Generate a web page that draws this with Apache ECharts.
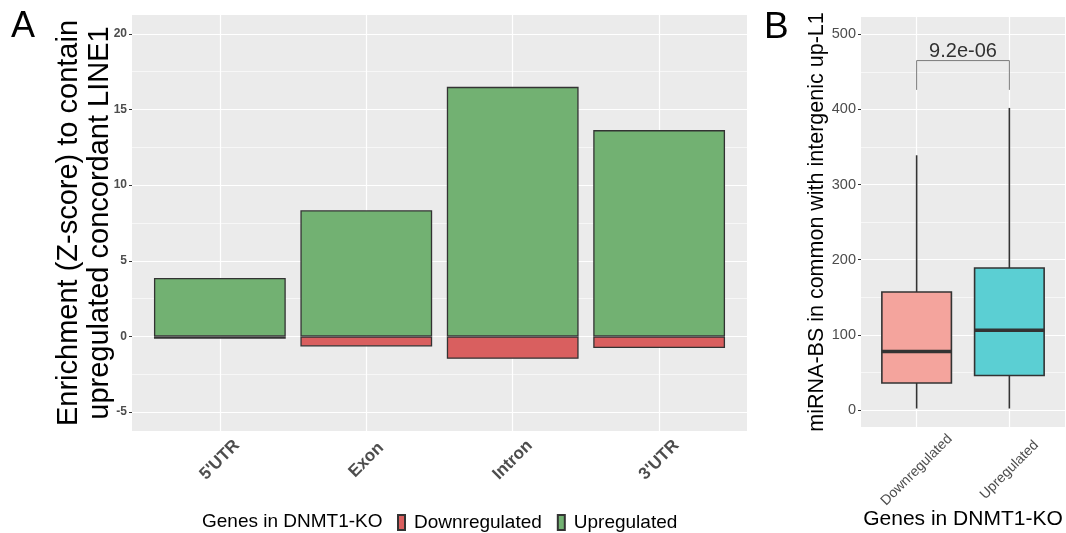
<!DOCTYPE html>
<html>
<head>
<meta charset="utf-8">
<script src="https://cdn.jsdelivr.net/npm/echarts@6/dist/echarts.min.js"></script>
<style>
  html, body { margin: 0; padding: 0; background: #fff; }
  #chart { width: 1066px; height: 533px; }
</style>
</head>
<body>
<div id="chart"></div>
<script>
// panel A: enrichment per gene region
const regions = ["5'UTR", 'Exon', 'Intron', "3'UTR"];
const upValues = [3.86, 8.34, 16.5, 13.64];
const downValues = [-0.15, -0.66, -1.48, -0.77];
const yMajorA = [-5, 0, 5, 10, 15, 20];
const yMinorA = [-2.5, 2.5, 7.5, 12.5, 17.5];

// panel B: miRNA-BS boxplots  [min, q1, median, q3, max]
const groups = ['Downregulated', 'Upregulated'];
const boxStats = [
  [2, 36, 78, 157, 339],
  [2, 46, 106, 189, 402]
];
const yMajorB = [0, 100, 200, 300, 400, 500];
const yMinorB = [50, 150, 250, 350, 450];
const bracket = [426, 465];
const pValue = '9.2e-06';

const FONT = 'Liberation Sans';
const GREY = '#4D4D4D';
const colRed = '#D95F5F', colGreen = '#72B172';
const boxColors = ['#F4A49D', '#5BCFD3'];

// white panel grid lines, drawn through the axes as mark lines
function gridLines(xi, yi, xMajor, yMajor, yMinor){
  const data = [];
  yMinor.forEach(v => data.push({ yAxis: v, lineStyle: { width: 0.6 } }));
  yMajor.forEach(v => data.push({ yAxis: v, lineStyle: { width: 1.2 } }));
  xMajor.forEach(v => data.push({ xAxis: v, lineStyle: { width: 1.2 } }));
  return {
    type: 'line', xAxisIndex: xi, yAxisIndex: yi, data: [], silent: true,
    markLine: {
      silent: true, z: 1, symbol: ['none', 'none'], label: { show: false },
      lineStyle: { color: '#FFFFFF', type: 'solid' }, animation: false,
      data: data
    }
  };
}

const chart = echarts.init(document.getElementById('chart'));
const xIdxA = regions.map((r, i) => i + 1);
const xIdxB = groups.map((g, i) => i + 1);

const option = {
  animation: false,
  textStyle: { fontFamily: FONT },
  title: [
    { text: 'A', left: 6, top: 4, textStyle: { fontSize: 36, fontWeight: 'normal', color: '#000', fontFamily: FONT } },
    { text: 'B', left: 759, top: 4, textStyle: { fontSize: 37, fontWeight: 'normal', color: '#000', fontFamily: FONT } },
    { text: 'Genes in DNMT1-KO', left: 197, top: 507, textStyle: { fontSize: 19, fontWeight: 'normal', color: '#000', fontFamily: FONT } }
  ],
  legend: {
    left: 397, top: 513, itemWidth: 7, itemHeight: 15, itemGap: 15, padding: 0,
    icon: 'rect',
    data: ['Downregulated', 'Upregulated'],
    textStyle: { fontSize: 19, color: '#000', fontFamily: FONT, padding: [0, 0, 0, 4] }
  },
  grid: [
    { left: 132, right: 319, top: 15, bottom: 102, show: true, backgroundColor: '#EBEBEB', borderWidth: 0, outerBoundsMode: 'none' },
    { left: 861, right: 1, top: 17, bottom: 106, show: true, backgroundColor: '#EBEBEB', borderWidth: 0, outerBoundsMode: 'none' }
  ],
  xAxis: [
    {
      gridIndex: 0, type: 'value', min: 0.4, max: 4.6,
      axisLine: { show: false }, splitLine: { show: false },
      axisTick: { show: true, customValues: xIdxA, length: 3, lineStyle: { color: '#333' } },
      axisLabel: {
        customValues: xIdxA, rotate: 45, align: 'center', margin: 29,
        fontSize: 17, fontWeight: 'bold', color: GREY, fontFamily: FONT,
        formatter: v => regions[Math.round(v) - 1]
      }
    },
    {
      gridIndex: 1, type: 'value', min: 0.4, max: 2.6,
      axisLine: { show: false }, splitLine: { show: false },
      axisTick: { show: true, customValues: xIdxB, length: 3, lineStyle: { color: '#333' } },
      axisLabel: {
        customValues: xIdxB, rotate: 45, align: 'center', margin: 43,
        fontSize: 14, color: GREY, fontFamily: FONT,
        formatter: v => groups[Math.round(v) - 1]
      },
      name: 'Genes in DNMT1-KO', nameLocation: 'middle', nameGap: 82, nameMoveOverlap: false,
      nameTextStyle: { fontSize: 21, color: '#000', fontFamily: FONT }
    }
  ],
  yAxis: [
    {
      gridIndex: 0, type: 'value', min: -6.25, max: 21.25,
      axisLine: { show: false }, splitLine: { show: false },
      axisTick: { show: true, customValues: yMajorA, length: 3, lineStyle: { color: '#333' } },
      axisLabel: { customValues: yMajorA, fontSize: 12, fontWeight: 'bold', color: GREY, margin: 5, fontFamily: FONT },
      name: 'Enrichment (Z-score) to contain\nupregulated concordant LINE1',
      nameLocation: 'middle', nameGap: 17, nameMoveOverlap: false,
      nameTextStyle: { fontSize: 29, lineHeight: 31, color: '#000', fontFamily: FONT }
    },
    {
      gridIndex: 1, type: 'value', min: -22.6, max: 523,
      axisLine: { show: false }, splitLine: { show: false },
      axisTick: { show: true, customValues: yMajorB, length: 3, lineStyle: { color: '#333' } },
      axisLabel: { customValues: yMajorB, fontSize: 14.5, color: GREY, margin: 5, fontFamily: FONT },
      name: 'miRNA-BS in common with intergenic up-L1',
      nameLocation: 'middle', nameGap: 33, nameMoveOverlap: false,
      nameTextStyle: { fontSize: 21.5, color: '#000', fontFamily: FONT }
    }
  ],
  series: [
    gridLines(0, 0, xIdxA, yMajorA, yMinorA),
    gridLines(1, 1, xIdxB, yMajorB, yMinorB),
    {
      name: 'Upregulated', type: 'bar', xAxisIndex: 0, yAxisIndex: 0, z: 2,
      barWidth: '90%', barGap: '-100%',
      data: upValues.map((v, i) => [i + 1, v]),
      itemStyle: { color: colGreen, borderColor: '#333', borderWidth: 1.3 }
    },
    {
      name: 'Downregulated', type: 'bar', xAxisIndex: 0, yAxisIndex: 0, z: 2,
      barWidth: '90%', barGap: '-100%',
      data: downValues.map((v, i) => [i + 1, v]),
      itemStyle: { color: colRed, borderColor: '#333', borderWidth: 1.3 }
    },
    {
      type: 'custom', xAxisIndex: 1, yAxisIndex: 1, z: 3,
      data: boxStats.map((s, i) => [i + 1].concat(s)),
      renderItem: function(params, api){
        const x = api.value(0);
        const lo = api.coord([x, api.value(1)]);
        const q1 = api.coord([x, api.value(2)]);
        const med = api.coord([x, api.value(3)]);
        const q3 = api.coord([x, api.value(4)]);
        const hi = api.coord([x, api.value(5)]);
        const w = api.size([0.75, 0])[0];
        const edge = { stroke: '#333', lineWidth: 1.6 };
        return { type: 'group', children: [
          { type: 'line', shape: { x1: lo[0], y1: lo[1], x2: lo[0], y2: q1[1] }, style: edge },
          { type: 'line', shape: { x1: hi[0], y1: q3[1], x2: hi[0], y2: hi[1] }, style: edge },
          { type: 'rect', shape: { x: q1[0] - w / 2, y: q3[1], width: w, height: q1[1] - q3[1] },
            style: { fill: boxColors[params.dataIndex], stroke: '#333', lineWidth: 1.6 } },
          { type: 'line', shape: { x1: med[0] - w / 2, y1: med[1], x2: med[0] + w / 2, y2: med[1] },
            style: { stroke: '#333', lineWidth: 3.5 } }
        ]};
      }
    },
    {
      type: 'line', xAxisIndex: 1, yAxisIndex: 1, z: 3, silent: true,
      symbol: 'none', lineStyle: { color: '#7A7A7A', width: 1 },
      data: [[1, bracket[0]], [1, bracket[1]], [2, bracket[1]], [2, bracket[0]]]
    },
    {
      type: 'scatter', xAxisIndex: 1, yAxisIndex: 1, z: 3, silent: true,
      symbolSize: 0,
      data: [[1.5, bracket[1]]],
      label: { show: true, position: 'top', distance: -1, formatter: pValue,
        fontSize: 20, color: '#000', fontFamily: FONT }
    }
  ]
};
chart.setOption(option);
</script>
</body>
</html>
